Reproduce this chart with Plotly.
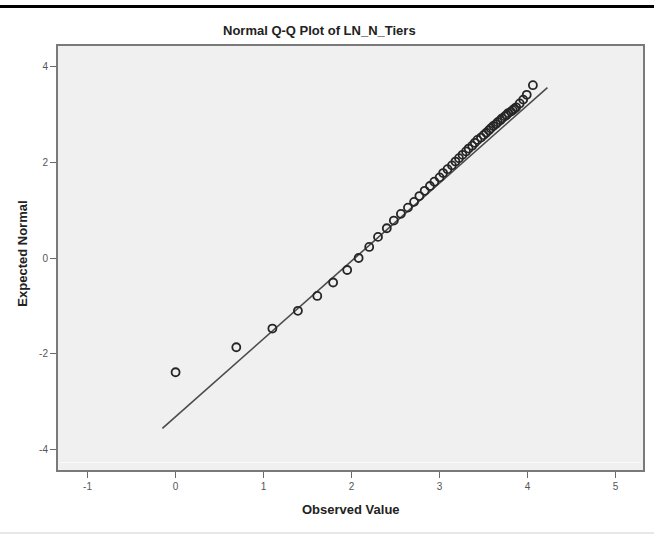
import plotly.graph_objects as go

# Observed values of LN_N_Tiers (one point per distinct value)
observed = [0.00, 0.69, 1.10, 1.39, 1.61, 1.79, 1.95, 2.08, 2.20, 2.30,
            2.40, 2.48, 2.56, 2.64, 2.71, 2.77, 2.83, 2.89, 2.94, 3.00,
            3.04, 3.09, 3.14, 3.18, 3.22, 3.26, 3.30, 3.33, 3.37, 3.40,
            3.43, 3.47, 3.50, 3.53, 3.56, 3.58, 3.61, 3.64, 3.66, 3.69,
            3.71, 3.74, 3.76, 3.78, 3.81, 3.83, 3.85, 3.87, 3.91, 3.95,
            3.99, 4.06]

# Expected normal quantiles for each observed value
expected = [-2.38, -1.86, -1.47, -1.10, -0.79, -0.51, -0.25, 0.00, 0.23, 0.44,
            0.62, 0.78, 0.92, 1.05, 1.17, 1.29, 1.40, 1.50, 1.59, 1.68,
            1.77, 1.85, 1.93, 2.01, 2.08, 2.15, 2.22, 2.28, 2.34, 2.40,
            2.46, 2.51, 2.56, 2.61, 2.66, 2.70, 2.75, 2.79, 2.83, 2.87,
            2.91, 2.95, 2.98, 3.02, 3.05, 3.08, 3.11, 3.14, 3.22, 3.30,
            3.40, 3.60]

# Reference line end points
ref_x = [-0.15, 4.225]
ref_y = [-3.55, 3.55]

x_ticks = [-1, 0, 1, 2, 3, 4, 5]
x_tick_text = ["-1", "0", "1", "2", "3", "4", "5"]
y_ticks = [-4, -2, 0, 2, 4]
y_tick_text = ["-4", "-2", "0", "2", "4"]

FONT = "Liberation Sans, Arial, sans-serif"

fig = go.Figure()

fig.add_trace(go.Scatter(
    x=ref_x, y=ref_y, mode="lines",
    line=dict(color="#4a4a4a", width=1.6),
    hoverinfo="skip", showlegend=False,
))

fig.add_trace(go.Scatter(
    x=observed, y=expected, mode="markers",
    marker=dict(symbol="circle-open", size=8, color="#262626",
                line=dict(color="#262626", width=1.8)),
    showlegend=False,
))

axis_common = dict(
    showgrid=False, zeroline=False,
    showline=True, mirror=True, linecolor="#7a7a7a", linewidth=2,
    ticks="outside", ticklen=6, tickwidth=1.2, tickcolor="#6a6a6a",
    tickfont=dict(family=FONT, size=10, color="#555555"),
)

fig.update_layout(
    width=654, height=534,
    margin=dict(l=58, r=9, t=46, b=64),
    paper_bgcolor="white",
    plot_bgcolor="#f0f0f0",
    xaxis=dict(range=[-1.336, 5.311], tickmode="array",
               tickvals=x_ticks, ticktext=x_tick_text, **axis_common),
    yaxis=dict(range=[-4.417, 4.417], tickmode="array",
               tickvals=y_ticks, ticktext=y_tick_text, **axis_common),
    showlegend=False,
    annotations=[
        dict(text="<b>Normal Q-Q Plot of LN_N_Tiers</b>", xref="paper", yref="paper",
             x=0.447, y=1.0354, xanchor="center", yanchor="middle", showarrow=False,
             font=dict(family=FONT, size=13, color="#222222")),
        dict(text="<b>Observed Value</b>", xref="paper", yref="paper",
             x=0.5, y=-0.094, xanchor="center", yanchor="middle", showarrow=False,
             font=dict(family=FONT, size=13, color="#222222")),
        dict(text="<b>Expected Normal</b>", xref="paper", yref="paper",
             x=-0.0613, y=0.5106, xanchor="center", yanchor="middle", showarrow=False,
             textangle=-90,
             font=dict(family=FONT, size=13, color="#222222")),
    ],
    shapes=[
        # thin light inner rule near the bottom of the plot area
        dict(type="line", xref="paper", yref="y", x0=0.003, x1=0.997,
             y0=-4.26, y1=-4.26, line=dict(color="#fbfbfb", width=1), layer="below"),
        # heavy black rule across the top of the page
        dict(type="line", xref="paper", yref="paper", x0=-0.11, x1=1.02,
             y0=1.0932, y1=1.0932, line=dict(color="#000000", width=3)),
        # faint rule along the bottom edge
        dict(type="line", xref="paper", yref="paper", x0=-0.11, x1=1.02,
             y0=-0.1486, y1=-0.1486, line=dict(color="#cfcfcf", width=1)),
    ],
)

fig.write_html("out.html")
